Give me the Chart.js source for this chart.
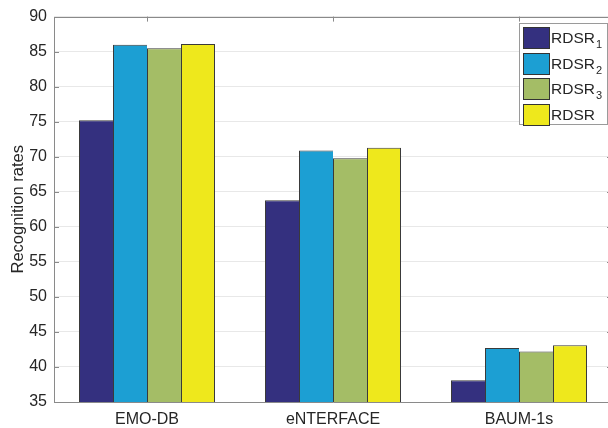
<!DOCTYPE html>
<html>
<head>
<meta charset="utf-8">
<script src="https://cdn.jsdelivr.net/npm/chart.js@4/dist/chart.umd.min.js"></script>
<style>
  html, body { margin: 0; padding: 0; background: #fff; overflow: hidden; }
  #wrap { width: 614px; height: 428px; overflow: hidden; }
</style>
</head>
<body>
<div id="wrap"><canvas id="c" width="614" height="428"></canvas></div>
<script>
// Databases on the x axis
const categories = ['EMO-DB', 'eNTERFACE', 'BAUM-1s'];

// Recognition rates (%) per method variant
const rdsr1 = [75.2, 63.8, 38.1];
const rdsr2 = [86.0, 70.9, 42.7];
const rdsr3 = [85.5, 69.8, 42.2];
const rdsr  = [86.1, 71.3, 43.1];

// Legend names: base text plus subscript
const seriesNames = ['RDSR', 'RDSR', 'RDSR', 'RDSR'];
const seriesSubs  = ['1', '2', '3', ''];
const seriesColors = ['#34307f', '#1c9fd3', '#a4bd66', '#eee81c'];

// Y axis range and step
const yMin = 35, yMax = 90, yStep = 5;

const FONT = '"Liberation Sans", Arial, Helvetica, sans-serif';
const AXIS_GRAY = '#8a8a8a';
const TEXT = '#262626';

// Box frame with inward tick marks, drawn under the bars
const framePlugin = {
  id: 'frame',
  beforeDatasetsDraw(chart) {
    const { ctx, chartArea: a, scales } = chart;
    ctx.save();
    ctx.strokeStyle = AXIS_GRAY;
    ctx.lineWidth = 1;
    ctx.beginPath();
    ctx.rect(Math.round(a.left) + 0.5, Math.round(a.top) + 0.5,
             Math.round(a.right - a.left), Math.round(a.bottom - a.top));
    ctx.stroke();
    const tl = 5;
    ctx.beginPath();
    scales.y.ticks.forEach(t => {
      const y = Math.round(scales.y.getPixelForValue(t.value)) + 0.5;
      ctx.moveTo(a.left, y); ctx.lineTo(a.left + tl, y);
      ctx.moveTo(a.right, y); ctx.lineTo(a.right - tl, y);
    });
    categories.forEach((_, i) => {
      const x = Math.round(scales.x.getPixelForValue(i)) + 0.5;
      ctx.moveTo(x, a.top); ctx.lineTo(x, a.top + tl);
      ctx.moveTo(x, a.bottom); ctx.lineTo(x, a.bottom - tl);
    });
    ctx.stroke();
    ctx.restore();
  }
};

// Boxed legend with subscripted series names
const legendPlugin = {
  id: 'subLegend',
  afterDraw(chart) {
    const { ctx } = chart;
    const bx = 519.5, by = 23.5, bw = 88, bh = 101;
    ctx.save();
    ctx.fillStyle = '#fff';
    ctx.fillRect(bx, by, bw, bh);
    ctx.strokeStyle = '#9a9a9a';
    ctx.lineWidth = 1;
    ctx.strokeRect(bx, by, bw, bh);
    chart.data.datasets.forEach((ds, i) => {
      const sy = Math.round(27 + i * 25.5);
      ctx.fillStyle = ds.backgroundColor;
      ctx.fillRect(523, sy, 26, 21);
      ctx.strokeStyle = '#333';
      ctx.strokeRect(523.5, sy + 0.5, 26, 21);
      ctx.fillStyle = TEXT;
      ctx.textBaseline = 'alphabetic';
      ctx.textAlign = 'left';
      ctx.font = '15.5px ' + FONT;
      const base = seriesNames[i];
      const baseY = sy + 16;
      ctx.fillText(base, 551, baseY);
      if (seriesSubs[i]) {
        const w = ctx.measureText(base).width;
        ctx.font = '11px ' + FONT;
        ctx.fillText(seriesSubs[i], 551 + w + 1, baseY + 5);
      }
    });
    ctx.restore();
  }
};

const datasetValues = [rdsr1, rdsr2, rdsr3, rdsr];
const lastSeries = datasetValues.length - 1;

new Chart(document.getElementById('c'), {
  type: 'bar',
  data: {
    labels: categories,
    datasets: datasetValues.map((vals, i) => ({
      label: seriesNames[i] + seriesSubs[i],
      data: vals,
      backgroundColor: seriesColors[i],
      borderColor: '#3a3a3a',
      // neighbouring bars share one edge line
      borderWidth: { top: 1, left: 1, bottom: 1, right: i === lastSeries ? 1 : 0 },
      borderSkipped: false,
      inflateAmount: 0,
      categoryPercentage: 136 / 186,
      barPercentage: 1.0
    }))
  },
  options: {
    responsive: false,
    devicePixelRatio: 1,
    animation: false,
    layout: { padding: { top: 15, right: 2, bottom: 0, left: 0 } },
    plugins: {
      legend: { display: false },
      tooltip: { enabled: false }
    },
    scales: {
      x: {
        type: 'category',
        offset: true,
        grid: { display: false, drawTicks: false },
        border: { display: false },
        ticks: { color: TEXT, font: { family: FONT, size: 16 }, padding: 8, maxRotation: 0 },
        afterFit(s) { s.height = 26; }
      },
      y: {
        min: yMin,
        max: yMax,
        grid: { color: '#e8e8e8', drawTicks: false },
        border: { display: false },
        ticks: { stepSize: yStep, color: TEXT, font: { family: FONT, size: 16 }, padding: 7 },
        title: {
          display: true,
          text: 'Recognition rates',
          color: TEXT,
          font: { family: FONT, size: 16.5 },
          padding: { top: 9, bottom: 0 }
        },
        afterFit(s) { s.width = 54; }
      }
    }
  },
  plugins: [framePlugin, legendPlugin]
});
</script>
</body>
</html>
